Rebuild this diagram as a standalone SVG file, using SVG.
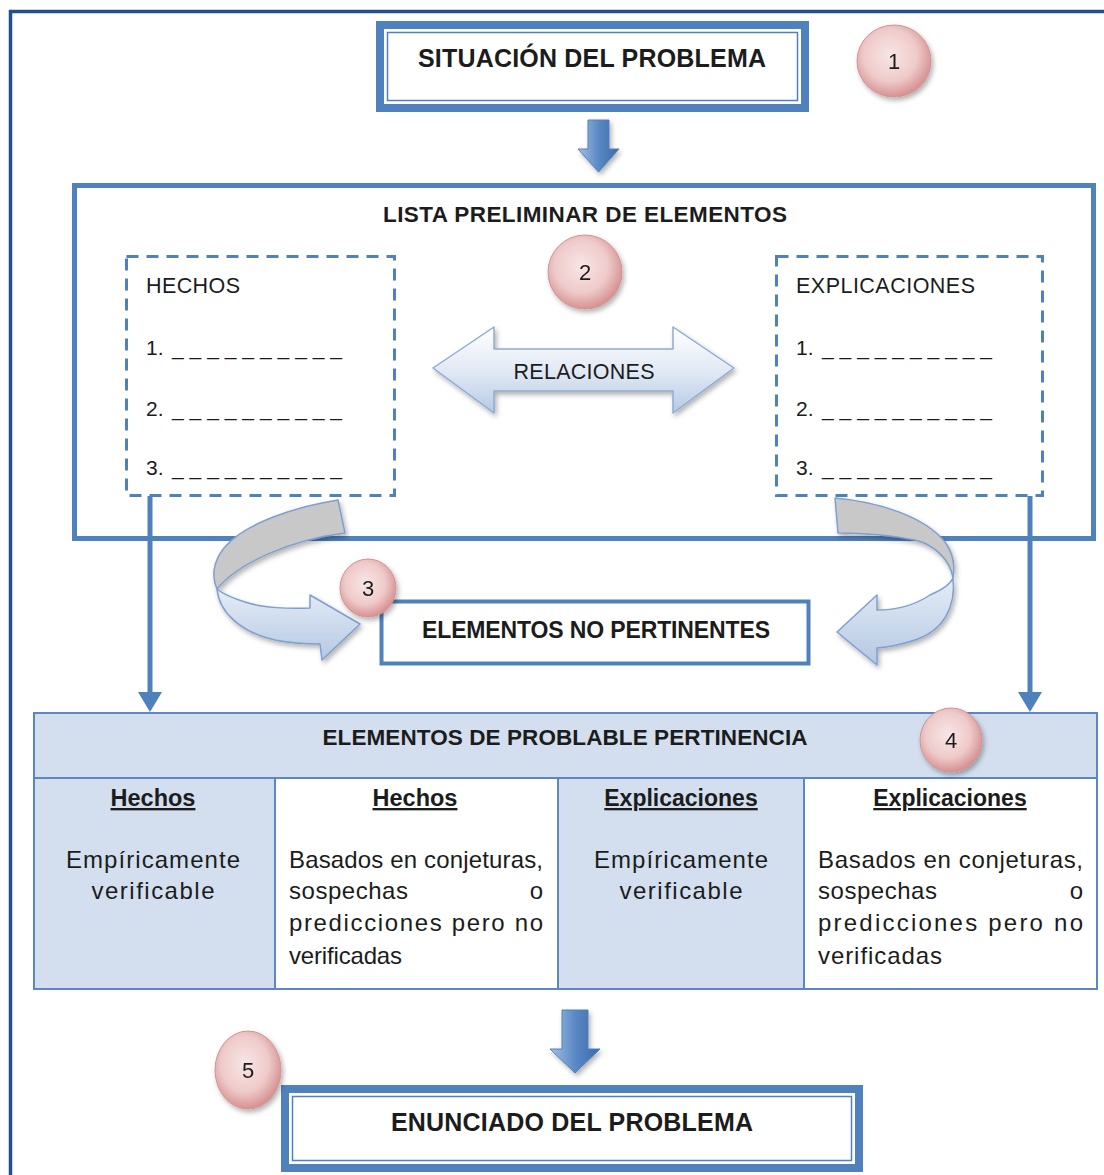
<svg xmlns="http://www.w3.org/2000/svg" width="1104" height="1175" viewBox="0 0 1104 1175">
  <defs>
    <style>
      .t { font-family: "Liberation Sans", Arial, sans-serif; fill: #1c1c1c; }
      .b { font-weight: bold; }
      .frame { fill: none; stroke: #4f81bd; }
      .dash { fill: none; stroke: #4f81bd; stroke-width: 3; stroke-dasharray: 12 8; }
      .link { fill: none; stroke: #4f81bd; stroke-width: 5; marker-end: url(#tipDown); }
      .cell { stroke: #5b87c2; stroke-width: 2; }
      .shade { fill: #d3dfef; }
      .plain { fill: #ffffff; }
      .num { font-family: "Liberation Sans", Arial, sans-serif; font-size: 22px; fill: #1c1c1c; text-anchor: middle; }
      .rib { stroke: #7f9fcf; stroke-width: 1.5; stroke-linejoin: round; }
    </style>
    <linearGradient id="blockFill" x1="0" y1="0" x2="1" y2="0">
      <stop offset="0" stop-color="#a4bfe3"/>
      <stop offset="0.5" stop-color="#5a89c5"/>
      <stop offset="1" stop-color="#3b69a8"/>
    </linearGradient>
    <linearGradient id="relFill" x1="0" y1="0" x2="0" y2="1">
      <stop offset="0" stop-color="#ffffff"/>
      <stop offset="0.5" stop-color="#e2eaf5"/>
      <stop offset="1" stop-color="#b6cae4"/>
    </linearGradient>
    <linearGradient id="ribbonFill" x1="0" y1="0" x2="0" y2="1">
      <stop offset="0" stop-color="#e5edf7"/>
      <stop offset="1" stop-color="#b4c8e2"/>
    </linearGradient>
    <radialGradient id="badgeFill" cx="0.45" cy="0.42" r="0.6">
      <stop offset="0" stop-color="#f8e6e6"/>
      <stop offset="0.6" stop-color="#efcaca"/>
      <stop offset="1" stop-color="#d48c8c"/>
    </radialGradient>
    <filter id="dropShadow" x="-30%" y="-30%" width="160%" height="160%">
      <feGaussianBlur in="SourceAlpha" stdDeviation="2.5"/>
      <feOffset dx="2" dy="3" result="off"/>
      <feFlood flood-color="#000000" flood-opacity="0.3"/>
      <feComposite in2="off" operator="in"/>
      <feMerge>
        <feMergeNode/>
        <feMergeNode in="SourceGraphic"/>
      </feMerge>
    </filter>
    <marker id="tipDown" viewBox="0 0 20 24" refX="8" refY="12" markerWidth="20" markerHeight="24" markerUnits="userSpaceOnUse" orient="auto">
      <path d="M0,0 L20,12 L0,24 Z" fill="#4f81bd"/>
    </marker>
  </defs>

  <!-- page frame -->
  <rect x="10.5" y="11.5" width="1120" height="1200" fill="#ffffff" stroke="#234f8a" stroke-width="3.5"/>

  <!-- step 1: problem situation -->
  <g id="node-situacion">
    <rect class="frame" x="380" y="25" width="425" height="83" stroke-width="8"/>
    <rect class="frame" x="387.5" y="32.5" width="410" height="68" stroke-width="1.5"/>
    <text class="t b" x="592" y="67" font-size="25" text-anchor="middle" textLength="348">SITUACIÓN DEL PROBLEMA</text>
  </g>

  <!-- preliminary list container -->
  <g id="node-lista">
    <rect class="frame" x="74.5" y="185.5" width="1019" height="353" stroke-width="5"/>
    <text class="t b" x="585" y="222" font-size="22.5" text-anchor="middle" textLength="404">LISTA PRELIMINAR DE ELEMENTOS</text>
  </g>

  <g id="node-hechos">
    <rect class="dash" x="126.5" y="256.5" width="268" height="239"/>
    <text class="t" x="146" y="293" font-size="21.5" textLength="94">HECHOS</text>
    <text class="t" x="146" y="355" font-size="21">1.</text>
    <text class="t" x="172" y="355" font-size="21" textLength="170">__________</text>
    <text class="t" x="146" y="416" font-size="21">2.</text>
    <text class="t" x="172" y="416" font-size="21" textLength="170">__________</text>
    <text class="t" x="146" y="475" font-size="21">3.</text>
    <text class="t" x="172" y="475" font-size="21" textLength="170">__________</text>
  </g>

  <g id="node-explicaciones">
    <rect class="dash" x="776.5" y="256.5" width="266" height="239"/>
    <text class="t" x="796" y="293" font-size="21.5" textLength="179">EXPLICACIONES</text>
    <text class="t" x="796" y="355" font-size="21">1.</text>
    <text class="t" x="822" y="355" font-size="21" textLength="170">__________</text>
    <text class="t" x="796" y="416" font-size="21">2.</text>
    <text class="t" x="822" y="416" font-size="21" textLength="170">__________</text>
    <text class="t" x="796" y="475" font-size="21">3.</text>
    <text class="t" x="822" y="475" font-size="21" textLength="170">__________</text>
  </g>

  <g id="node-relaciones">
    <path d="M433,368 L494,327 L494,349 L673,349 L673,327 L734,368 L673,413 L673,391 L494,391 L494,413 Z" fill="url(#relFill)" stroke="#8eaad6" stroke-width="1.5" stroke-linejoin="round" filter="url(#dropShadow)"/>
    <text class="t" x="584" y="379" font-size="21.5" text-anchor="middle" textLength="141">RELACIONES</text>
  </g>

  <!-- discarded elements -->
  <g id="node-no-pertinentes">
    <rect class="frame" x="381.5" y="601.5" width="427" height="62" stroke-width="4"/>
    <text class="t b" x="596" y="638" font-size="23" text-anchor="middle" textLength="348">ELEMENTOS NO PERTINENTES</text>
  </g>

  <!-- probable relevance table -->
  <g id="node-probable">
    <rect class="cell shade" x="34" y="713" width="1063" height="65"/>
    <rect class="cell shade" x="34" y="778" width="241" height="211"/>
    <rect class="cell plain" x="275" y="778" width="283" height="211"/>
    <rect class="cell shade" x="558" y="778" width="246" height="211"/>
    <rect class="cell plain" x="804" y="778" width="293" height="211"/>
    <text class="t b" x="565" y="745" font-size="22.5" text-anchor="middle" textLength="485">ELEMENTOS DE PROBLABLE PERTINENCIA</text>

    <text class="t b" x="153" y="806" font-size="23.5" text-anchor="middle" text-decoration="underline">Hechos</text>
    <text class="t" x="153" y="868" font-size="24" text-anchor="middle" textLength="174">Empíricamente</text>
    <text class="t" x="153" y="899" font-size="24" text-anchor="middle" textLength="123">verificable</text>

    <text class="t b" x="415" y="806" font-size="23.5" text-anchor="middle" text-decoration="underline">Hechos</text>
    <text class="t" x="289" y="868" font-size="24" textLength="254">Basados en conjeturas,</text>
    <text class="t" x="289" y="899" font-size="24" textLength="119">sospechas</text>
    <text class="t" x="543" y="899" font-size="24" text-anchor="end">o</text>
    <text class="t" x="289" y="931" font-size="24" textLength="254">predicciones pero no</text>
    <text class="t" x="289" y="964" font-size="24" textLength="113">verificadas</text>

    <text class="t b" x="681" y="806" font-size="23" text-anchor="middle" text-decoration="underline">Explicaciones</text>
    <text class="t" x="681" y="868" font-size="24" text-anchor="middle" textLength="174">Empíricamente</text>
    <text class="t" x="681" y="899" font-size="24" text-anchor="middle" textLength="123">verificable</text>

    <text class="t b" x="950" y="806" font-size="23" text-anchor="middle" text-decoration="underline">Explicaciones</text>
    <text class="t" x="818" y="868" font-size="24" textLength="265">Basados en conjeturas,</text>
    <text class="t" x="818" y="899" font-size="24" textLength="119">sospechas</text>
    <text class="t" x="1083" y="899" font-size="24" text-anchor="end">o</text>
    <text class="t" x="818" y="931" font-size="24" textLength="265">predicciones pero no</text>
    <text class="t" x="818" y="964" font-size="24" textLength="124">verificadas</text>
  </g>

  <!-- step 5: problem statement -->
  <g id="node-enunciado">
    <rect class="frame" x="285" y="1089" width="574" height="79" stroke-width="8"/>
    <rect class="frame" x="292.5" y="1096.5" width="559" height="64" stroke-width="1.5"/>
    <text class="t b" x="572" y="1131" font-size="25" text-anchor="middle" textLength="362">ENUNCIADO DEL PROBLEMA</text>
  </g>

  <!-- connectors -->
  <g id="connectors">
    <path d="M588,120 L609,120 L609,149 L619,149 L598.5,172 L578,149 L588,149 Z" fill="url(#blockFill)" stroke="#4f81bd" stroke-width="1" filter="url(#dropShadow)"/>
    <path d="M562,1010 L588,1010 L588,1049 L600,1049 L575,1073 L550,1049 L562,1049 Z" fill="url(#blockFill)" stroke="#4f81bd" stroke-width="1" filter="url(#dropShadow)"/>

    <line class="link" x1="150" y1="496" x2="150" y2="700"/>
    <path d="M1030,496 L1030,700" class="link"/>

    <!-- left turn-back ribbon into the discarded box -->
    <g filter="url(#dropShadow)">
      <path class="rib" d="M338,500 C300,506 245,522 224,548 C212,563 212,578 217,589 C238,563 290,540 345,533 Z" fill="#c8c8c8"/>
      <path class="rib" d="M217,589 C219,612 240,632 275,640 C290,643 305,644 320,644 L322,660 L360,624 L310,595 L310,608 C290,609 262,608 245,602 C232,598 223,594 217,589 Z" fill="url(#ribbonFill)"/>
    </g>
    <!-- right turn-back ribbon into the discarded box -->
    <g filter="url(#dropShadow)">
      <path class="rib" d="M835,498 C880,502 925,517 945,542 C953,553 955,566 953,578 C950,560 935,545 915,540 C890,535 860,533 838,533 Z" fill="#c8c8c8"/>
      <path class="rib" d="M953,578 C956,605 945,630 915,640 C900,645 890,647 877,648 L877,665 L837,632 L877,595 L877,610 C895,610 915,605 930,595 C942,590 950,585 953,578 Z" fill="url(#ribbonFill)"/>
    </g>
  </g>

  <!-- step badges -->
  <g id="badge-1" filter="url(#dropShadow)">
    <ellipse cx="894" cy="61" rx="37" ry="36" fill="url(#badgeFill)" stroke="#d29494" stroke-width="1"/>
    <text class="num" x="894" y="69">1</text>
  </g>
  <g id="badge-2" filter="url(#dropShadow)">
    <ellipse cx="585" cy="272" rx="37" ry="37" fill="url(#badgeFill)" stroke="#d29494" stroke-width="1"/>
    <text class="num" x="585" y="280">2</text>
  </g>
  <g id="badge-3" filter="url(#dropShadow)">
    <ellipse cx="368" cy="588" rx="28" ry="29" fill="url(#badgeFill)" stroke="#d29494" stroke-width="1"/>
    <text class="num" x="368" y="596">3</text>
  </g>
  <g id="badge-4" filter="url(#dropShadow)">
    <ellipse cx="951" cy="740" rx="31" ry="32" fill="url(#badgeFill)" stroke="#d29494" stroke-width="1"/>
    <text class="num" x="951" y="748">4</text>
  </g>
  <g id="badge-5" filter="url(#dropShadow)">
    <ellipse cx="248" cy="1070" rx="33" ry="39" fill="url(#badgeFill)" stroke="#d29494" stroke-width="1"/>
    <text class="num" x="248" y="1078">5</text>
  </g>
</svg>
